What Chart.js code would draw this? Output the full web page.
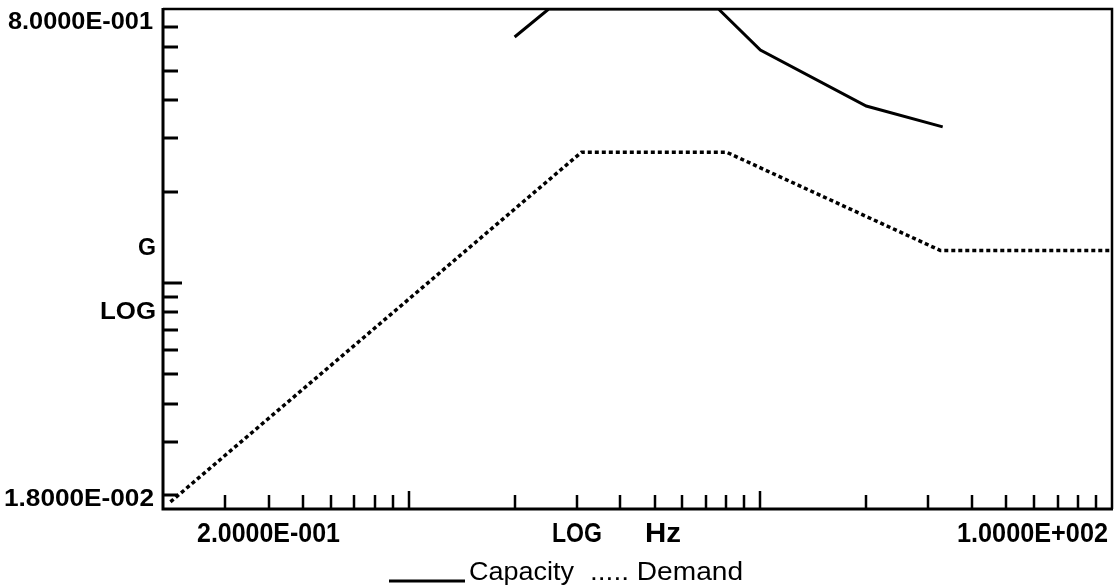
<!DOCTYPE html>
<html>
<head>
<meta charset="utf-8">
<script src="https://cdn.jsdelivr.net/npm/chart.js@4.4.1/dist/chart.umd.min.js"></script>
<style>
  html, body { margin: 0; padding: 0; background: #fff; }
  canvas { display: block; }
</style>
</head>
<body>
<canvas id="chart" width="1114" height="586"></canvas>
<script>
// values: frequency in Hz, acceleration in G (log-log)
const capacityFreq = [2.0, 2.5, 7.6, 10, 20, 33];
const capacityG = [0.647, 0.8, 0.8, 0.586, 0.383, 0.327];
const demandFreq = [0.21, 3.1, 8.0, 32.5, 100];
const demandG = [0.019, 0.27, 0.27, 0.128, 0.128];

const xRange = [0.2, 100];
const yRange = [0.018, 0.8];
const xTicks = [0.3, 0.4, 0.5, 0.6, 0.7, 0.8, 0.9, 1, 2, 3, 4, 5, 6, 7, 8, 9, 10, 20, 30, 40, 50, 60, 70, 80, 90];
const yTicks = [0.02, 0.03, 0.04, 0.05, 0.06, 0.07, 0.08, 0.09, 0.1, 0.2, 0.3, 0.4, 0.5, 0.6, 0.7];
const xMajor = [1, 10];
const yMajor = [0.1];
const xEndLabels = ['2.0000E-001', '1.0000E+002'];
const yEndLabels = ['1.8000E-002', '8.0000E-001'];

const toPoints = (xs, ys) => xs.map((x, i) => ({ x: x, y: ys[i] }));

// draw text squeezed/stretched to a given width
function fitText(ctx, text, x, y, width, font, align) {
    ctx.save();
    ctx.font = font;
    const w = ctx.measureText(text).width;
    const s = width / w;
    const left = align === 'right' ? x - width : (align === 'center' ? x - width / 2 : x);
    ctx.translate(left, y);
    ctx.scale(s, 1);
    ctx.textAlign = 'left';
    ctx.textBaseline = 'alphabetic';
    ctx.fillText(text, 0, 0);
    ctx.restore();
}

const framePlugin = {
    id: 'frame',
    afterDraw(chart) {
        const { ctx, chartArea: a, scales } = chart;
        const xs = scales.x, ys = scales.y;
        ctx.save();
        ctx.strokeStyle = '#000';
        ctx.fillStyle = '#000';

        // frame
        ctx.lineWidth = 2.5;
        ctx.beginPath();
        ctx.moveTo(a.left, a.top);
        ctx.lineTo(a.right, a.top);
        ctx.lineTo(a.right, a.bottom);
        ctx.stroke();
        ctx.lineWidth = 3;
        ctx.beginPath();
        ctx.moveTo(a.left, a.top - 1);
        ctx.lineTo(a.left, a.bottom);
        ctx.lineTo(a.right + 1, a.bottom);
        ctx.stroke();

        // inward tick marks
        ctx.lineWidth = 3;
        yTicks.forEach(v => {
            const py = Math.round(ys.getPixelForValue(v));
            const len = yMajor.includes(v) ? 19 : 15;
            ctx.beginPath();
            ctx.moveTo(a.left, py);
            ctx.lineTo(a.left + len, py);
            ctx.stroke();
        });
        ctx.lineWidth = 2.5;
        xTicks.forEach(v => {
            const px = Math.round(xs.getPixelForValue(v));
            const len = xMajor.includes(v) ? 18 : 14;
            ctx.beginPath();
            ctx.moveTo(px, a.bottom);
            ctx.lineTo(px, a.bottom - len);
            ctx.stroke();
        });

        // axis texts
        const bold = 'bold 24px "Liberation Sans", Arial, sans-serif';
        const boldX = 'bold 27px "Liberation Sans", Arial, sans-serif';
        fitText(ctx, yEndLabels[1], 153, 29, 145, 'bold 23px "Liberation Sans", Arial, sans-serif', 'right');
        fitText(ctx, yEndLabels[0], 154, 506, 150, bold, 'right');
        fitText(ctx, 'G', 156, 255, 18, bold, 'right');
        fitText(ctx, 'LOG', 156, 319, 56, bold, 'right');
        fitText(ctx, xEndLabels[0], 197, 542, 143, boldX, 'left');
        fitText(ctx, 'LOG', 552, 542, 50, boldX, 'left');
        fitText(ctx, 'Hz', 645, 542, 36, boldX, 'left');
        fitText(ctx, xEndLabels[1], 1108, 542, 151, boldX, 'right');

        // legend
        ctx.lineWidth = 3;
        ctx.beginPath();
        ctx.moveTo(389, 581);
        ctx.lineTo(465, 581);
        ctx.stroke();
        const legFont = '25px "Liberation Sans", Arial, sans-serif';
        fitText(ctx, 'Capacity', 469, 580, 105, legFont, 'left');
        fitText(ctx, '..... Demand', 590, 580, 153, legFont, 'left');
        ctx.restore();
    }
};

new Chart(document.getElementById('chart'), {
    type: 'line',
    data: {
        datasets: [
            {
                label: 'Capacity',
                data: toPoints(capacityFreq, capacityG),
                borderColor: '#000',
                borderWidth: 3,
                pointRadius: 0,
                tension: 0
            },
            {
                label: 'Demand',
                data: toPoints(demandFreq, demandG),
                borderColor: '#000',
                borderWidth: 3.5,
                borderDash: [4, 3],
                pointRadius: 0,
                tension: 0
            }
        ]
    },
    options: {
        responsive: false,
        animation: false,
        devicePixelRatio: 1,
        layout: { padding: { left: 163, top: 9, right: 2, bottom: 77 } },
        scales: {
            x: {
                type: 'logarithmic',
                min: xRange[0],
                max: xRange[1],
                grid: { display: false },
                border: { display: false },
                ticks: { display: false },
                afterFit: (s) => { s.height = 0; }
            },
            y: {
                type: 'logarithmic',
                min: yRange[0],
                max: yRange[1],
                grid: { display: false },
                border: { display: false },
                ticks: { display: false },
                afterFit: (s) => { s.width = 0; }
            }
        },
        plugins: {
            legend: { display: false },
            tooltip: { enabled: false }
        }
    },
    plugins: [framePlugin]
});
</script>
</body>
</html>
